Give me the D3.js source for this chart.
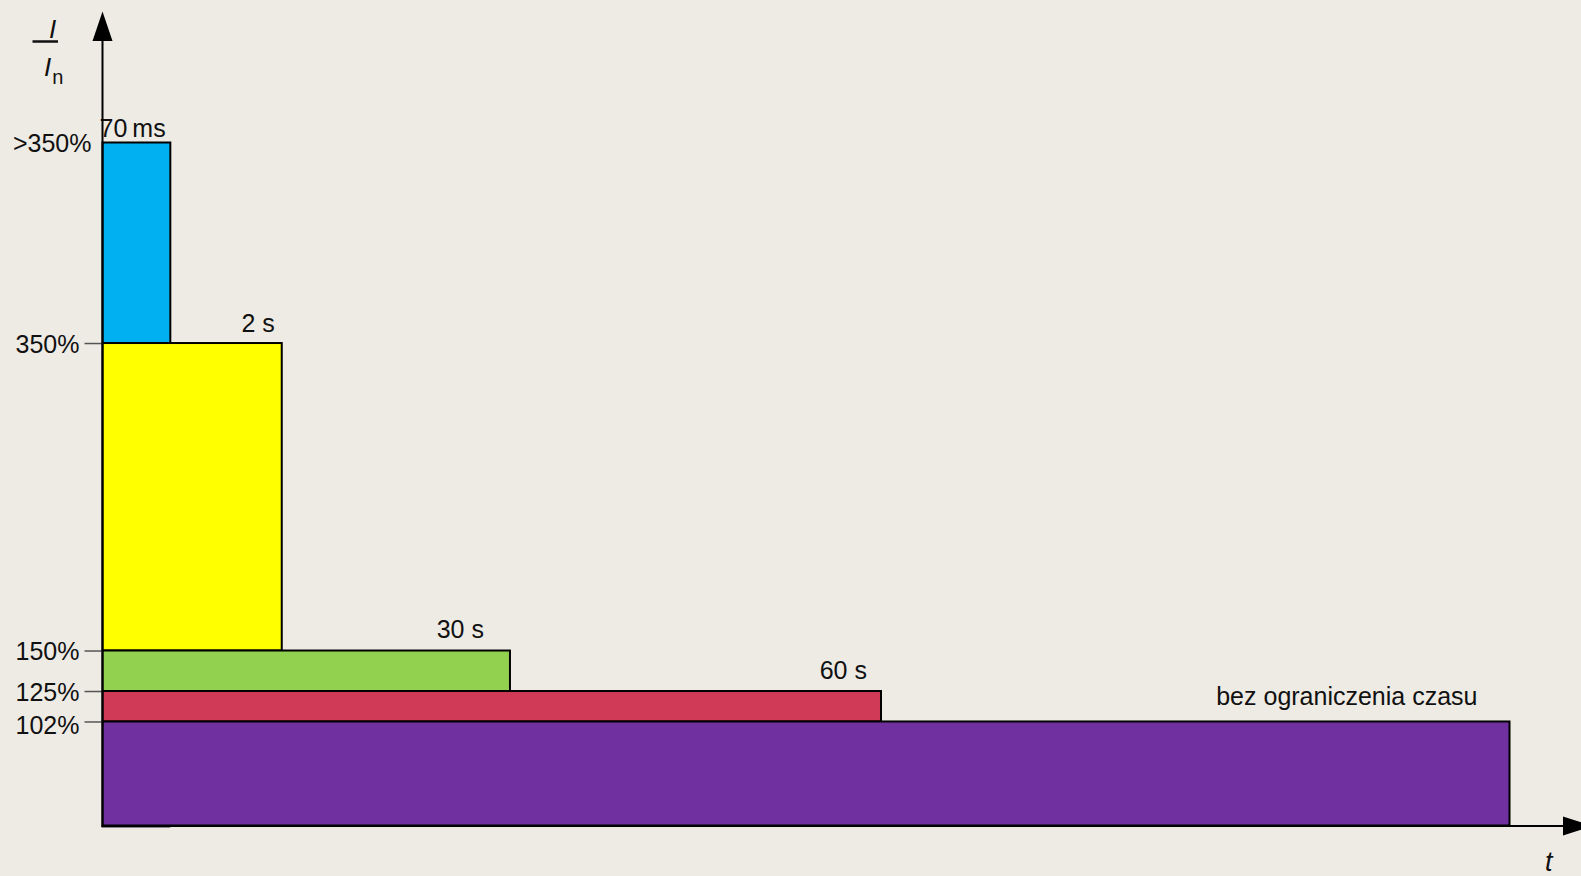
<!DOCTYPE html>
<html>
<head>
<meta charset="utf-8">
<script src="https://cdn.jsdelivr.net/npm/d3@7"></script>
<style>
  html, body { margin: 0; padding: 0; background: #EEEBE4; }
  svg { display: block; }
  text { font-family: "Liberation Sans", Arial, sans-serif; fill: #111; }
</style>
</head>
<body>
<svg id="chart" width="1581" height="876"></svg>
<script>
// Overload zones of the drive: current level vs. allowed duration (schematic, not to scale)
const levelLabels = ['>350%', '350%', '150%', '125%', '102%'];
const durationLabels = ['70\u2009ms', '2 s', '30 s', '60 s', 'bez ograniczenia czasu'];
const zoneColors = ['#00B0F0', '#FFFF00', '#92D050', '#D13A56', '#7030A0'];
// upper edge of each zone on the schematic current axis (0..100)
const zoneTop = [100, 70.64, 25.62, 19.69, 15.23];
// end of each zone on the schematic time axis (0..100)
const zoneEnd = [4.82, 12.74, 28.96, 55.33, 100];

// label layout: horizontal inset from the zone end, and lift above zone top
const labelInset = [null, 7, 26, 14, 32];
const labelLift = [6, 11, 13, 12, 16];

const FONT = 25;
const svg = d3.select('#chart');
const x = d3.scaleLinear().domain([0, 100]).range([102.5, 1509.5]);
const y = d3.scaleLinear().domain([0, 100]).range([825.5, 142.5]);

const zones = zoneTop.map((top, i) => ({
  top,
  bottom: i < zoneTop.length - 1 ? zoneTop[i + 1] : 0,
  end: zoneEnd[i],
  color: zoneColors[i],
  label: durationLabels[i],
  level: levelLabels[i]
}));

// zone rectangles
svg.append('g').selectAll('rect')
  .data(zones)
  .join('rect')
  .attr('x', x(0))
  .attr('y', d => y(d.top))
  .attr('width', d => x(d.end) - x(0))
  .attr('height', d => y(d.bottom) - y(d.top))
  .attr('fill', d => d.color)
  .attr('stroke', '#000')
  .attr('stroke-width', 2);

// faint base edge under the first zone
svg.append('line')
  .attr('x1', x(0) - 1).attr('x2', x(zoneEnd[0]))
  .attr('y1', y(0) + 1.5).attr('y2', y(0) + 1.5)
  .attr('stroke', '#222').attr('stroke-width', 1);

// duration labels
svg.append('g').selectAll('text')
  .data(zones)
  .join('text')
  .attr('x', (d, i) => i === 0 ? x(0) - 3 : x(d.end) - labelInset[i])
  .attr('y', (d, i) => y(d.top) - labelLift[i])
  .attr('text-anchor', (d, i) => i === 0 ? 'start' : 'end')
  .attr('font-size', FONT)
  .text(d => d.label);

// current-level axis
const yAxis = d3.axisLeft(y)
  .tickValues(zoneTop)
  .tickFormat((d, i) => levelLabels[i])
  .tickSize(18)
  .tickPadding(5);

const gy = svg.append('g')
  .attr('transform', `translate(${x(0)},0)`)
  .call(yAxis);
gy.select('.domain').remove();
gy.selectAll('.tick line').attr('stroke', '#555').attr('stroke-width', 1.5);
gy.selectAll('.tick text')
  .attr('font-family', '"Liberation Sans", Arial, sans-serif')
  .attr('font-size', FONT)
  .attr('fill', '#111')
  .attr('dy', (d, i) => i === levelLabels.length - 1 ? '0.48em' : '0.37em');
// the top level has no tick mark and sits closer to the axis
gy.selectAll('.tick').filter((d, i) => i === 0).select('line').remove();
gy.selectAll('.tick').filter((d, i) => i === 0).select('text').attr('x', -11);

// axis lines with arrowheads
const axisG = svg.append('g');
axisG.append('line')
  .attr('x1', x(0)).attr('x2', x(0))
  .attr('y1', y(0) + 1).attr('y2', 40)
  .attr('stroke', '#000').attr('stroke-width', 2);
axisG.append('path')
  .attr('d', `M${x(0)},11.5 L${x(0) - 10},41 L${x(0) + 10},41 Z`)
  .attr('fill', '#000');
axisG.append('line')
  .attr('x1', x(0) - 1).attr('x2', 1565)
  .attr('y1', y(0) + 0.5).attr('y2', y(0) + 0.5)
  .attr('stroke', '#000').attr('stroke-width', 2);
axisG.append('path')
  .attr('d', `M1593,${y(0) + 0.5} L1563,${y(0) - 9} L1563,${y(0) + 10} Z`)
  .attr('fill', '#000');

// axis titles
const yTitle = svg.append('g');
yTitle.append('text')
  .attr('x', 49).attr('y', 38)
  .attr('font-size', 26).attr('font-style', 'italic')
  .text('I');
yTitle.append('line')
  .attr('x1', 32.5).attr('x2', 58)
  .attr('y1', 41.5).attr('y2', 41.5)
  .attr('stroke', '#111').attr('stroke-width', 2.5);
const lower = yTitle.append('text')
  .attr('x', 44).attr('y', 76)
  .attr('font-size', 26);
lower.append('tspan').attr('font-style', 'italic').text('I');
lower.append('tspan').attr('font-size', 20).attr('dy', 8).attr('dx', 1).text('n');

svg.append('text')
  .attr('x', 1545).attr('y', 871)
  .attr('font-size', 27).attr('font-style', 'italic')
  .text('t');
</script>
</body>
</html>
